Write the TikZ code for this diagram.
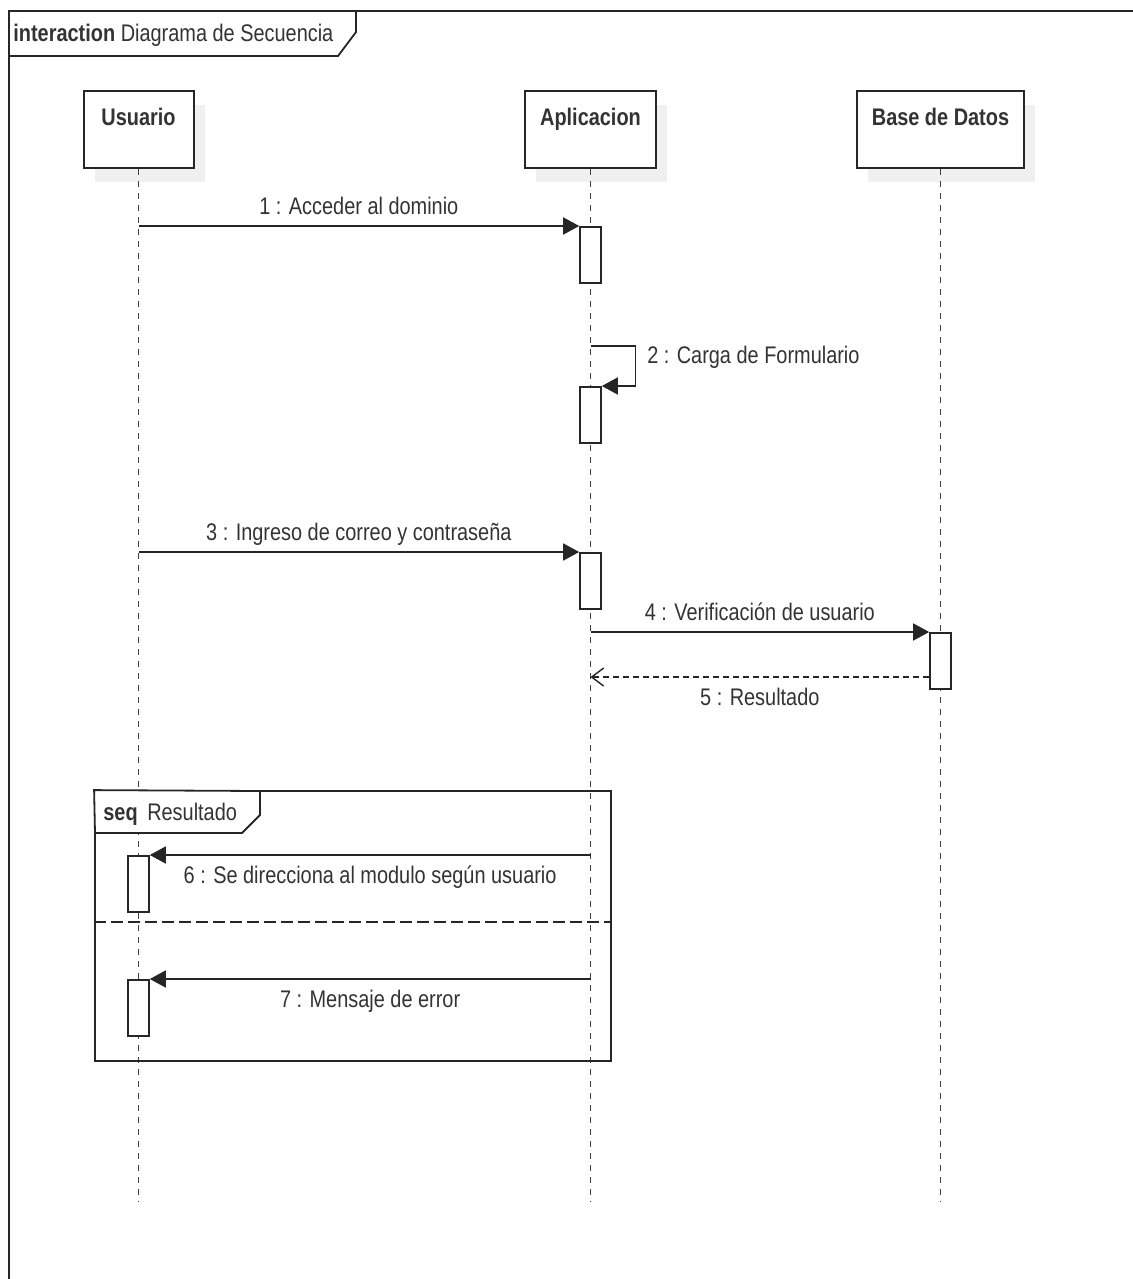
\documentclass[tikz,border=0pt]{standalone}
\usepackage{fontspec}
\setmainfont{Liberation Sans}[FakeStretch=0.83]
\usetikzlibrary{positioning,arrows.meta,shadows}

\begin{document}
\begin{tikzpicture}[x=0.5pt,y=-0.5pt,on grid,
  every node/.style={text=black!80,font=\fontsize{12}{14}\selectfont},
  head/.style={draw=black!85,line width=1pt,fill=white,minimum width=#1,inner sep=0pt,
    text height=17.5pt,text depth=21pt,font=\fontsize{12}{14}\selectfont\bfseries,
    drop shadow={shadow xshift=5.5pt,shadow yshift=-7pt,fill=black!6,opacity=1,draw=none}},
  act/.style={draw=black!85,line width=0.8pt,fill=white,minimum width=10.5pt,
    minimum height=28pt,inner sep=0pt,anchor=north},
  lifeline/.style={draw=black!75,line width=0.7pt,dash pattern=on 3pt off 3pt},
  msg/.style={draw=black!85,line width=0.8pt,-{Triangle[length=8pt,width=8.5pt]}},
  ret/.style={draw=black!85,line width=0.7pt,dash pattern=on 3pt off 2pt,
    -{Straight Barb[length=6pt,width=9pt]}},
  mlabel/.style={inner sep=3pt,text height=8.7pt,text depth=2.2pt},
  frame/.style={draw=black!85,line width=0.9pt}]
  \useasboundingbox (0,0) rectangle (1133,1279);
  \clip (0,0) rectangle (1133,1279);

  % outer frame
  \draw[frame] (9,1290) -- (9,11) -- (1140,11);
  \draw[frame] (9,56) -- (338,56) -- (356,32) -- (356,11);
  \node[anchor=base west,inner sep=0pt] (title) at (13,41.5) {\textbf{interaction} Diagrama de Secuencia};

  % lifelines
  \node[head=55pt] (usr) at (138.5,129.5) {Usuario};
  \node[head=65.5pt,right=226pt of usr] (app) {Aplicacion};
  \node[head=83.5pt,right=175pt of app] (bd) {Base de Datos};
  \draw[lifeline] (usr) -- (usr |- 0,1202);
  \draw[lifeline] (app) -- (app |- 0,1202);
  \draw[lifeline] (bd) -- (bd |- 0,1202);

  % seq fragment
  \node[frame,minimum width=258pt,minimum height=135pt,inner sep=0pt] (seq) at (353,926) {};
  \draw[frame,fill=white] (seq.north west) -- (260,791) -- (260,815) -- (242,833) -- (95,833) -- cycle;
  \node[anchor=base west,inner sep=0pt] (seqlbl) at (103,820.5) {\textbf{seq}\, Resultado};
  \draw[frame,dash pattern=on 6pt off 2.5pt] (seq.west |- 0,922) -- (seq.east |- 0,922);

  % activations
  \node[act] (a1) at (app |- 0,226) {};
  \node[act] (a2) at (app |- 0,386) {};
  \node[act] (a3) at (app |- 0,552) {};
  \node[act] (b4) at (bd |- 0,632) {};
  \node[act] (u6) at (usr |- 0,855) {};
  \node[act] (u7) at (usr |- 0,979) {};

  % messages
  \draw[msg] (usr |- a1.north) -- node[mlabel,above] {1 : Acceder al dominio} (a1.north west);
  \draw[msg] (app |- 0,346) -- ++(45,0) |- node[mlabel,pos=0.14,right=2.5pt] {2 : Carga de Formulario} (a2.north east);
  \draw[msg] (usr |- a3.north) -- node[mlabel,above] {3 : Ingreso de correo y contraseña} (a3.north west);
  \draw[msg] (app |- b4.north) -- node[mlabel,above] {4 : Verificación de usuario} (b4.north west);
  \draw[ret] (b4.west |- 0,677) -- node[mlabel,below=2pt] {5 : Resultado} (app |- 0,677);
  \draw[msg] (app |- u6.north) -- node[mlabel,below=2pt] {6 : Se direcciona al modulo según usuario} (u6.north east);
  \draw[msg] (app |- u7.north) -- node[mlabel,below=2pt] {7 : Mensaje de error} (u7.north east);
\end{tikzpicture}
\end{document}
